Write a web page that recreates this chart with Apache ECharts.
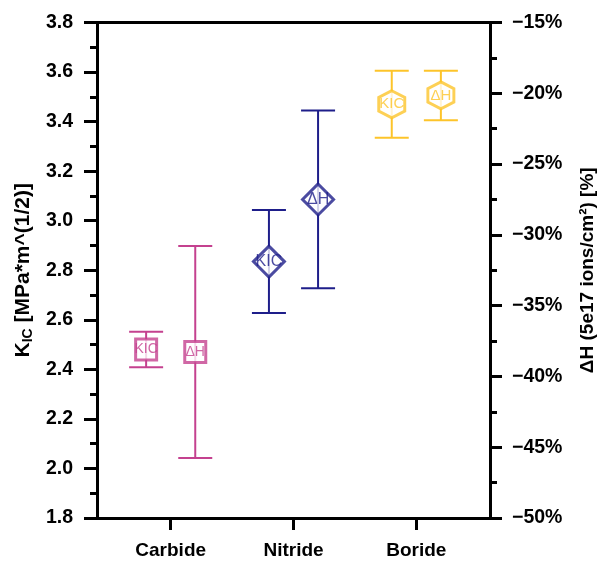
<!DOCTYPE html>
<html>
<head>
<meta charset="utf-8">
<script src="https://cdn.jsdelivr.net/npm/echarts@6/dist/echarts.min.js"></script>
<style>
  html, body { margin: 0; padding: 0; background: #fff; }
  #chart { width: 597px; height: 563px; }
</style>
</head>
<body>
<div id="chart"></div>
<script>
// Ceramic families on the x axis
const categories = ['Carbide', 'Nitride', 'Boride'];

// Fracture toughness K_IC (left axis) with standard deviation
const kicMean = [2.48, 2.835, 3.47];
const kicErr = [0.072, 0.208, 0.135];

// Hardness change ΔH in % (right axis) with standard deviation
const dhMean = [-38.27, -27.5, -20.15];
const dhErr = [7.49, 6.28, 1.75];

// Axis ticks
const leftTicks = { min: 1.8, max: 3.8, interval: 0.2 };
const rightTicks = { min: -50, max: -15, interval: 5 };

// Per-family styling
const colors = ['#C4418F', '#1E1E8A', '#FDC42A'];
const hexagon = 'path://M0,-1 L0.866,-0.5 L0.866,0.5 L0,1 L-0.866,0.5 L-0.866,-0.5 Z';
const symbols = ['rect', 'diamond', hexagon];
const symbolSizes = [[21, 21], [31, 31], [26, 27]];
const labelSizes = [14, 16, 15];
const pairOffset = 0.2;

const FONT = '"Liberation Sans", Arial, sans-serif';

function errorData(means, errs, shift) {
  return means.map((m, i) => [i + 1 + shift, m - errs[i], m + errs[i], i]);
}

function markerData(means, shift) {
  return means.map((m, i) => ({
    value: [i + 1 + shift, m],
    symbol: symbols[i],
    symbolSize: symbolSizes[i],
    itemStyle: { color: '#fff', borderColor: colors[i], borderWidth: 3 },
    label: { color: colors[i], fontSize: labelSizes[i] }
  }));
}

function renderErrorBar(params, api) {
  const x = api.value(0);
  const lo = api.coord([x, api.value(1)]);
  const hi = api.coord([x, api.value(2)]);
  const col = colors[api.value(3)];
  const half = 17;
  const style = { stroke: col, lineWidth: 2, fill: null };
  return {
    type: 'group',
    children: [
      { type: 'line', shape: { x1: lo[0], y1: lo[1], x2: hi[0], y2: hi[1] }, style },
      { type: 'line', shape: { x1: lo[0] - half, y1: lo[1], x2: lo[0] + half, y2: lo[1] }, style },
      { type: 'line', shape: { x1: hi[0] - half, y1: hi[1], x2: hi[0] + half, y2: hi[1] }, style }
    ]
  };
}

const axisLineStyle = { lineStyle: { color: '#000', width: 3 } };
const tickLabelStyle = { color: '#000', fontSize: 19.5, fontWeight: 'bold', fontFamily: FONT };

const chart = echarts.init(document.getElementById('chart'), null, { renderer: 'canvas' });

chart.setOption({
  animation: false,
  backgroundColor: '#fff',
  grid: { left: 97, right: 107, top: 22.5, bottom: 45, containLabel: false, outerBoundsMode: 'none' },
  xAxis: [
    {
      type: 'value', min: 0.4, max: 3.6, position: 'bottom',
      splitLine: { show: false },
      axisLine: axisLineStyle,
      axisTick: { show: true, length: 12, lineStyle: { width: 3, color: '#000' }, customValues: [1, 2, 3] },
      axisLabel: Object.assign({}, tickLabelStyle, {
        fontSize: 19, margin: 23, customValues: [1, 2, 3],
        formatter: v => categories[Math.round(v) - 1] || ''
      })
    },
    {
      type: 'value', min: 0.4, max: 3.6, position: 'top',
      splitLine: { show: false },
      axisLine: axisLineStyle,
      axisTick: { show: false },
      axisLabel: { show: false }
    }
  ],
  yAxis: [
    {
      type: 'value', position: 'left',
      min: leftTicks.min, max: leftTicks.max, interval: leftTicks.interval,
      splitLine: { show: false },
      axisLine: { show: true, lineStyle: { color: '#000', width: 3 } },
      axisTick: { show: true, length: 13, lineStyle: { width: 3, color: '#000' } },
      minorTick: { show: true, splitNumber: 2, length: 7, lineStyle: { width: 3, color: '#000' } },
      axisLabel: Object.assign({}, tickLabelStyle, { margin: 24, formatter: v => v.toFixed(1) }),
      name: '{k|K}{s|IC}{k| [MPa*m^(1/2)]}',
      nameLocation: 'middle',
      nameRotate: 90,
      nameGap: 61,
      nameTextStyle: {
        color: '#000', fontFamily: FONT, fontWeight: 'bold', fontSize: 21,
        rich: {
          k: { fontSize: 21, fontWeight: 'bold', fontFamily: FONT, color: '#000', lineHeight: 24 },
          s: { fontSize: 14, fontWeight: 'bold', fontFamily: FONT, color: '#000', lineHeight: 12, verticalAlign: 'bottom' }
        }
      }
    },
    {
      type: 'value', position: 'right',
      min: rightTicks.min, max: rightTicks.max, interval: rightTicks.interval,
      splitLine: { show: false },
      axisLine: { show: true, lineStyle: { color: '#000', width: 3 } },
      axisTick: { show: true, length: 12, lineStyle: { width: 3, color: '#000' } },
      minorTick: { show: true, splitNumber: 2, length: 7, lineStyle: { width: 3, color: '#000' } },
      axisLabel: Object.assign({}, tickLabelStyle, {
        margin: 22,
        formatter: v => (v < 0 ? '\u2212' : '') + Math.abs(v) + '%'
      }),
      name: 'ΔH (5e17 ions/cm²) [%]',
      nameLocation: 'middle',
      nameRotate: 90,
      nameGap: 88,
      nameTextStyle: { color: '#000', fontFamily: FONT, fontWeight: 'bold', fontSize: 19 }
    }
  ],
  series: [
    {
      name: 'KIC error', type: 'custom', xAxisIndex: 0, yAxisIndex: 0, z: 2,
      renderItem: renderErrorBar,
      encode: { x: 0, y: [1, 2] },
      data: errorData(kicMean, kicErr, -pairOffset)
    },
    {
      name: 'ΔH error', type: 'custom', xAxisIndex: 0, yAxisIndex: 1, z: 2,
      renderItem: renderErrorBar,
      encode: { x: 0, y: [1, 2] },
      data: errorData(dhMean, dhErr, pairOffset)
    },
    {
      name: 'KIC', type: 'scatter', xAxisIndex: 0, yAxisIndex: 0, z: 5,
      label: { show: true, position: 'inside', formatter: 'KIC', fontFamily: FONT },
      data: markerData(kicMean, -pairOffset)
    },
    {
      name: 'ΔH', type: 'scatter', xAxisIndex: 0, yAxisIndex: 1, z: 5,
      label: { show: true, position: 'inside', formatter: 'ΔH', fontFamily: FONT },
      data: markerData(dhMean, pairOffset)
    }
  ]
});
</script>
</body>
</html>
